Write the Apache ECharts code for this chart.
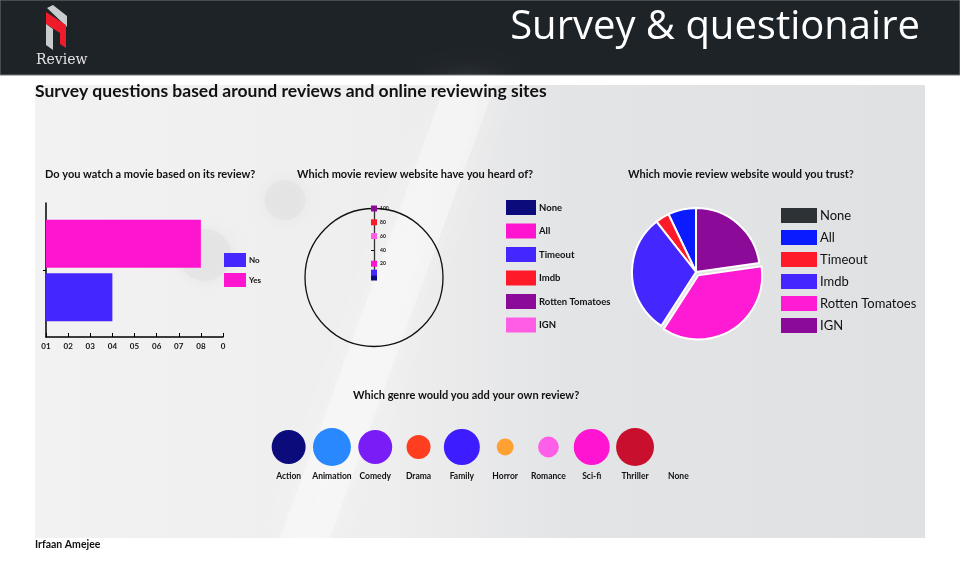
<!DOCTYPE html>
<html>
<head>
<meta charset="utf-8">
<title>Survey & questionaire</title>
<script src="https://cdn.jsdelivr.net/npm/echarts@6/dist/echarts.min.js"></script>
<style>
  html, body { margin: 0; padding: 0; background: #ffffff; }
  #survey { width: 960px; height: 574px; }
</style>
</head>
<body>
<div id="survey"></div>
<script>
// Do you watch a movie based on its review?
const watchAnswers = ["No", "Yes"];
const watchCounts = [4, 8];
const watchColors = ["#4427ff", "#ff14cf"];
const watchTickLabels = ["01", "02", "03", "04", "05", "06", "07", "08", "0"];

// Which movie review website have you heard of? (polar, radius values)
const sites = ["None", "All", "Timeout", "Imdb", "Rotten Tomatoes", "IGN"];
const heardOf = [0, 20, 7, 80, 100, 60];
const heardColors = ["#0b0b7c", "#ff14cf", "#4427ff", "#ff1a2a", "#8c0a98", "#ff5ee4"];

// Which movie review website would you trust?
const trusted = [0, 7, 3.5, 30, 36, 22.5];
const trustColors = ["#2c3235", "#0a1cff", "#ff1a2a", "#4427ff", "#ff1ad4", "#8c0a98"];

// Which genre would you add your own review?
const genres = ["Action", "Animation", "Comedy", "Drama", "Family", "Horror", "Romance", "Sci-fi", "Thriller", "None"];
const genreVotes = [8, 10, 8, 4, 9, 2, 3, 9, 10, 0];
const genreColors = ["#0b0b7c", "#2a88ff", "#7a1cf5", "#ff3d1f", "#3d1cff", "#ffa033", "#ff5ee8", "#ff14d2", "#c8102e", "#cccccc"];

const font = "Lato";
const ink = "#111111";

document.addEventListener("DOMContentLoaded", () => {
    const chart = echarts.init(document.getElementById("survey"));

    const titleStyle = { fontFamily: font, fontSize: 11, fontWeight: "bold", color: ink };
    const xScale = { type: "value", min: 1, max: 9, interval: 1 };

    const option = {
        backgroundColor: "#ffffff",
        animation: false,

        graphic: [
            // header band
            { type: "rect", z: -10, shape: { x: 0, y: 0, width: 960, height: 75 },
              style: { fill: "#1e2328", stroke: "#70767b", lineWidth: 1 } },
            // logo
            { type: "polygon", z: -9, shape: { points: [[47, 8], [53, 5], [67, 16], [67, 27]] },
              style: { fill: "#c9cccc" } },
            { type: "polygon", z: -9, shape: { points: [[46, 12], [66, 25], [66, 48], [60, 44], [60, 33], [46, 24]] },
              style: { fill: "#ee1c2b" } },
            { type: "polygon", z: -9, shape: { points: [[46, 24], [53, 29], [53, 50], [46, 45]] },
              style: { fill: "#c9cccc" } },
            { type: "text", z: -9, left: 36, top: 53,
              style: { text: "Review", fill: "#e4e4e4", font: "14px 'DejaVu Serif'" } },
            { type: "text", z: -9, right: 40, top: 8,
              style: { text: "Survey & questionaire", fill: "#ffffff", font: "40px 'Open Sans'" } },

            // grey photo panel
            { type: "rect", z: -10, shape: { x: 35, y: 85, width: 890, height: 453 },
              style: { fill: new echarts.graphic.LinearGradient(0, 0, 1, 0, [
                  { offset: 0, color: "#f2f2f2" },
                  { offset: 0.4, color: "#eeeeee" },
                  { offset: 0.6, color: "#e3e4e6" },
                  { offset: 1, color: "#e0e1e3" }
              ]) } },
            { type: "circle", z: -9, shape: { cx: 205, cy: 255, r: 26 },
              style: { fill: "#e2e2e2", shadowBlur: 16, shadowColor: "#e2e2e2", opacity: 0.7 } },
            { type: "circle", z: -9, shape: { cx: 285, cy: 200, r: 20 },
              style: { fill: "#e2e2e2", shadowBlur: 16, shadowColor: "#e2e2e2", opacity: 0.7 } },
            { type: "polygon", z: -9, shape: { points: [[445, 85], [495, 85], [330, 538], [280, 538]] },
              style: { fill: "rgba(255,255,255,0.35)", shadowBlur: 30, shadowColor: "rgba(255,255,255,0.7)" } },

            // header line and footer
            { type: "text", left: 35, top: 82,
              style: { text: "Survey questions based around reviews and online reviewing sites",
                       fill: ink, font: "bold 17.5px " + font } },
            { type: "text", left: 35, top: 539,
              style: { text: "Irfaan Amejee", fill: ink, font: "bold 10.5px " + font } }
        ],

        title: [
            { text: "Do you watch a movie based on its review?", left: 45, top: 169, padding: 0, textStyle: titleStyle },
            { text: "Which movie review website have you heard of?", left: 297, top: 169, padding: 0, textStyle: titleStyle },
            { text: "Which movie review website would you trust?", left: 628, top: 169, padding: 0, textStyle: titleStyle },
            { text: "Which genre would you add your own review?", left: 353, top: 390, padding: 0, textStyle: titleStyle }
        ],

        legend: [
            {
                data: watchAnswers.map((a, i) => ({ name: a, itemStyle: { color: watchColors[i], opacity: 1 } })),
                orient: "vertical", left: 224, top: 253, padding: 0,
                icon: "rect", itemWidth: 22, itemHeight: 14, itemGap: 6, selectedMode: false,
                textStyle: { fontFamily: font, fontSize: 8, fontWeight: "bold", color: ink, padding: [0, 0, 0, -2] }
            },
            {
                data: sites.map((s, i) => ({ name: s, itemStyle: { color: heardColors[i], opacity: 1 } })),
                orient: "vertical", left: 506, top: 200, padding: 0,
                icon: "rect", itemWidth: 30, itemHeight: 15, itemGap: 8.5, selectedMode: false,
                textStyle: { fontFamily: font, fontSize: 9.5, fontWeight: "bold", color: ink, padding: [0, 0, 0, -2] }
            },
            {
                data: sites.map((s, i) => ({ name: s, itemStyle: { color: trustColors[i], opacity: 1 } })),
                orient: "vertical", left: 781, top: 208, padding: 0,
                icon: "rect", itemWidth: 36, itemHeight: 15, itemGap: 7, selectedMode: false,
                textStyle: { fontFamily: font, fontSize: 13, color: ink, padding: [0, 0, 0, -2] }
            }
        ],

        grid: [
            // axes frame of the yes/no chart
            { left: 46, top: 203, width: 177, height: 134 },
            // bars of the yes/no chart
            { left: 46, top: 217, width: 177, height: 107 },
            // genre bubbles
            { left: 267, top: 427, width: 433, height: 40 }
        ],

        xAxis: [
            {
                gridIndex: 0, ...xScale,
                axisLine: { show: true, lineStyle: { color: "#000", width: 1.5 } },
                axisTick: { show: true, inside: true, length: 4, lineStyle: { color: "#000" } },
                splitLine: { show: false },
                axisLabel: { margin: 5, fontFamily: font, fontSize: 8, fontWeight: "bold", color: ink,
                             formatter: v => watchTickLabels[v - 1] }
            },
            { gridIndex: 1, ...xScale, show: false },
            {
                gridIndex: 2, type: "category", data: genres,
                axisLine: { show: false }, axisTick: { show: false },
                axisLabel: { interval: 0, margin: 5, fontFamily: font, fontSize: 8.5, fontWeight: "bold", color: ink }
            }
        ],
        yAxis: [
            {
                gridIndex: 0, type: "value", min: 0, max: 2, interval: 1,
                axisLine: { show: true, lineStyle: { color: "#000", width: 1.5 } },
                axisTick: { show: true, length: 3, customValues: [1], lineStyle: { color: "#000" } },
                axisLabel: { show: false }, splitLine: { show: false }
            },
            { gridIndex: 1, type: "category", data: watchAnswers, show: false },
            { gridIndex: 2, type: "value", min: -1, max: 1, show: false }
        ],

        polar: { center: [374, 277.5], radius: 69 },
        angleAxis: {
            type: "value", min: 0, max: 360, startAngle: 90,
            axisLine: { show: true, lineStyle: { color: "#111", width: 1.3 } },
            axisTick: { show: false }, axisLabel: { show: false }, splitLine: { show: false }
        },
        radiusAxis: {
            type: "value", min: 0, max: 100, interval: 20,
            axisLine: { show: true, lineStyle: { color: "#333", width: 1.3 } },
            axisTick: { show: true, length: 3, lineStyle: { color: "#111" } },
            splitLine: { show: false },
            axisLabel: { margin: -6, align: "left", fontFamily: font, fontSize: 5, fontWeight: "bold", color: ink,
                         formatter: v => (v === 0 ? "" : v) }
        },

        series: [
            ...watchAnswers.map((ans, i) => ({
                name: ans, type: "bar", xAxisIndex: 1, yAxisIndex: 1,
                barGap: "-100%", barCategoryGap: "10%",
                itemStyle: { color: watchColors[i] },
                data: watchAnswers.map((_, j) => (j === i ? watchCounts[i] : "-"))
            })),
            ...sites.map((s, i) => ({
                name: s, type: "scatter", coordinateSystem: "polar",
                symbol: "rect", symbolSize: 6,
                itemStyle: { color: heardColors[i], opacity: 1 },
                data: [[heardOf[i], 0]]
            })),
            {
                name: "Trust", type: "pie", center: [696, 272], radius: 64,
                startAngle: 90, clockwise: false,
                selectedMode: "single", selectedOffset: 4,
                label: { show: false }, labelLine: { show: false },
                itemStyle: { borderColor: "#ffffff", borderWidth: 2 },
                data: sites.map((s, i) => ({
                    name: s, value: trusted[i], selected: s === "Rotten Tomatoes",
                    itemStyle: { color: trustColors[i] }
                }))
            },
            {
                name: "Genres", type: "scatter", xAxisIndex: 2, yAxisIndex: 2,
                symbolSize: d => 12 * Math.sqrt(d[2]),
                itemStyle: { color: p => genreColors[p.dataIndex], opacity: 1 },
                data: genres.map((g, i) => [g, 0, genreVotes[i]])
            }
        ]
    };

    chart.setOption(option);
    window.addEventListener("resize", () => chart.resize());
});
</script>
</body>
</html>
